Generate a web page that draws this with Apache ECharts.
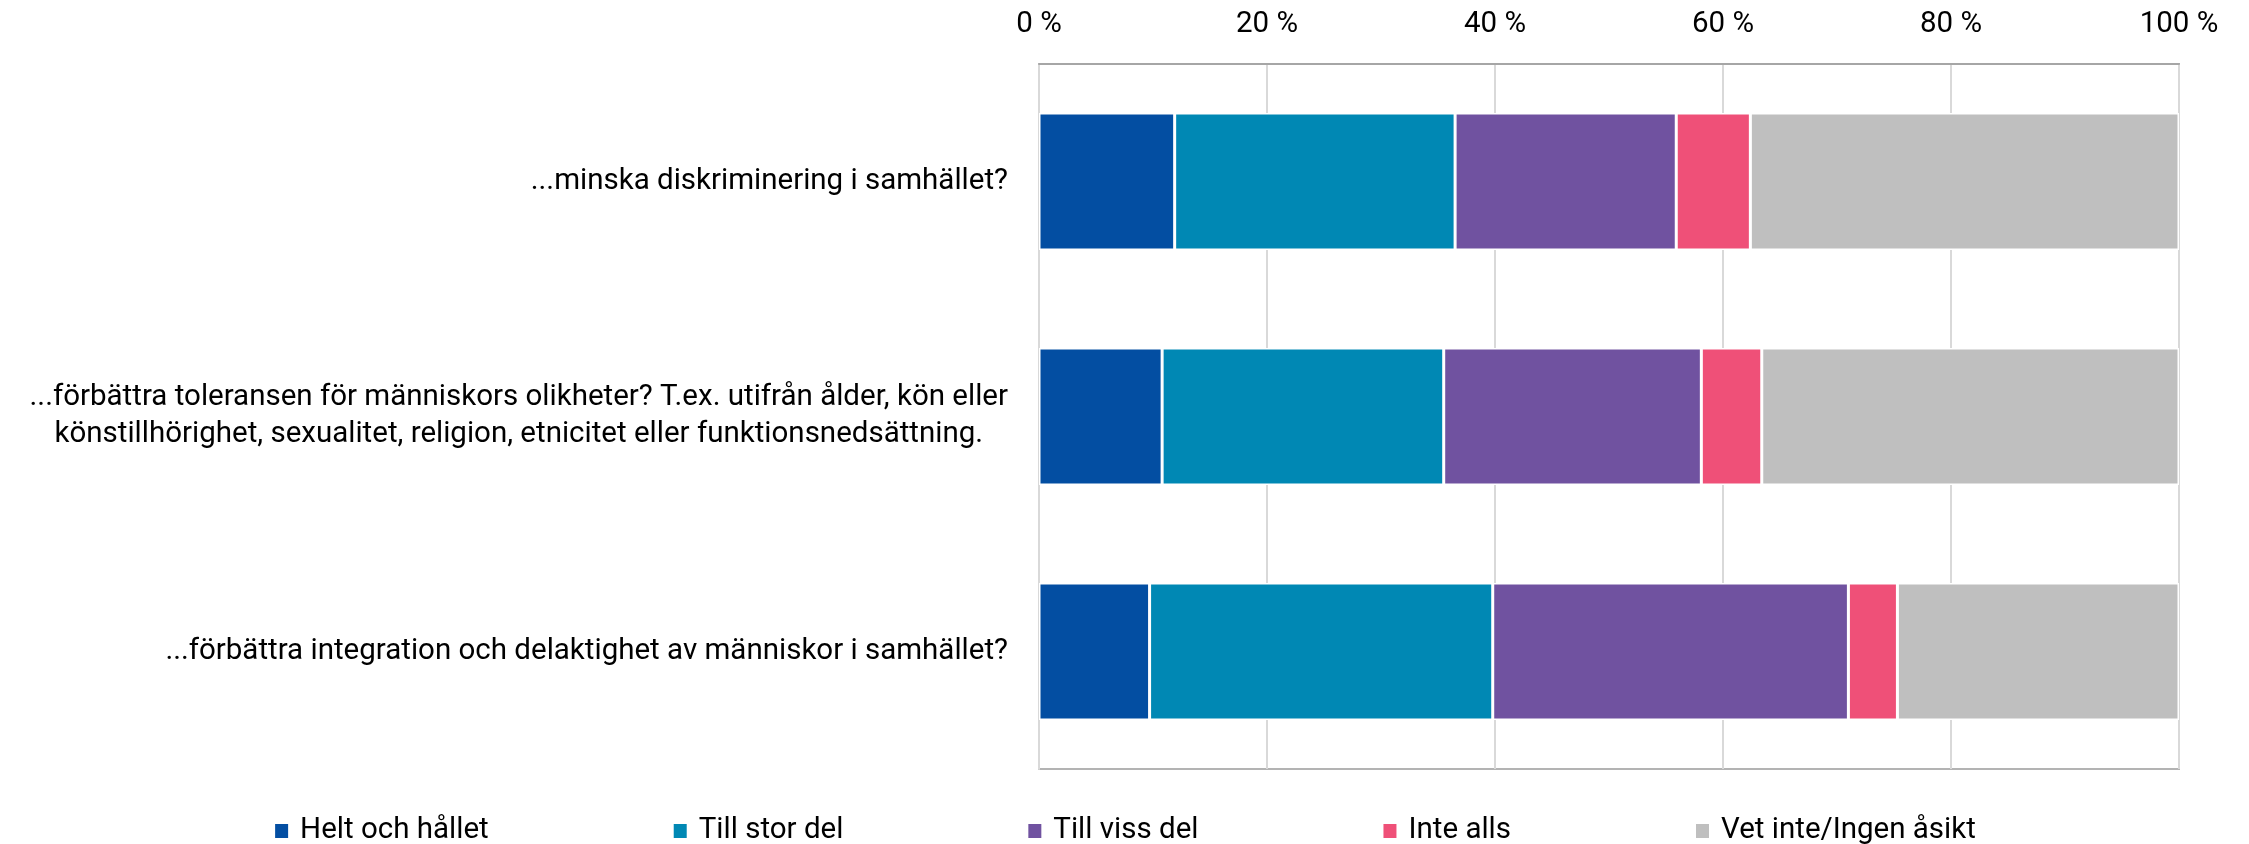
<!DOCTYPE html>
<html>
<head>
<meta charset="utf-8">
<script src="https://cdn.jsdelivr.net/npm/echarts@6/dist/echarts.min.js"></script>
<style>
  html, body { margin: 0; padding: 0; background: #fff; }
  #chart { width: 2249px; height: 844px; }
</style>
</head>
<body>
<div id="chart"></div>
<script>
// frågor (uppifrån och ned)
var categories = [
  '...minska diskriminering i samhället?',
  '...förbättra toleransen för människors olikheter? T.ex. utifrån ålder, kön eller\nkönstillhörighet, sexualitet, religion, etnicitet eller funktionsnedsättning.',
  '...förbättra integration och delaktighet av människor i samhället?'
];
var seriesNames = ['Helt och hållet', 'Till stor del', 'Till viss del', 'Inte alls', 'Vet inte/Ingen åsikt'];
var heltOchHallet = [11.9, 10.8, 9.7];
var tillStorDel = [24.6, 24.7, 30.1];
var tillVissDel = [19.4, 22.6, 31.2];
var inteAlls = [6.5, 5.3, 4.3];
var vetInte = [37.6, 36.6, 24.7];
var xTicks = [0, 20, 40, 60, 80, 100];

var colors = ['#034ea2', '#0088b4', '#7052a0', '#ef5078', '#bfbfbf'];
var font = 'Roboto, sans-serif';

var myChart = echarts.init(document.getElementById('chart'));
var values = [heltOchHallet, tillStorDel, tillVissDel, inteAlls, vetInte];
var series = [];
for (var i = 0; i < seriesNames.length; i++) {
  series.push({
    name: seriesNames[i],
    type: 'bar',
    stack: 'total',
    barWidth: 137,
    data: values[i],
    itemStyle: { color: colors[i], borderColor: '#fff', borderWidth: 1.5 }
  });
}

var option = {
  animation: false,
  color: colors,
  textStyle: { fontFamily: font },
  grid: {
    left: 1039, right: 70, top: 64, bottom: 75,
    show: true, borderColor: '#b3b3b3', borderWidth: 2
  },
  legend: {
    data: seriesNames,
    left: 'center',
    top: 811,
    itemWidth: 15,
    itemHeight: 16,
    itemGap: 183,
    icon: 'rect',
    textStyle: { fontSize: 29.5, color: '#000', fontFamily: font, padding: [0, 0, 0, 6] }
  },
  xAxis: {
    type: 'value',
    position: 'top',
    min: xTicks[0],
    max: xTicks[xTicks.length - 1],
    interval: xTicks[1] - xTicks[0],
    axisLine: { show: true, lineStyle: { color: '#a6a6a6', width: 2 } },
    axisTick: { show: false },
    axisLabel: { formatter: '{value} %', fontSize: 29.5, color: '#000', margin: 24, fontFamily: font },
    splitLine: { show: true, lineStyle: { color: '#d9d9d9', width: 2 } }
  },
  yAxis: {
    type: 'category',
    inverse: true,
    data: categories,
    axisLine: { show: true, lineStyle: { color: '#d9d9d9', width: 2 } },
    axisTick: { show: false },
    axisLabel: {
      margin: 31,
      formatter: function (v) {
        return v.split('\n').map(function (s) { return '{c|' + s + '}'; }).join('\n');
      },
      rich: {
        c: { fontSize: 29.5, lineHeight: 37, color: '#000', align: 'center', fontFamily: font }
      }
    }
  },
  series: series
};
myChart.setOption(option);
window.addEventListener('resize', function () {
  setTimeout(function () {
    myChart.resize();
  }, 0);
});
</script>
</body>
</html>
